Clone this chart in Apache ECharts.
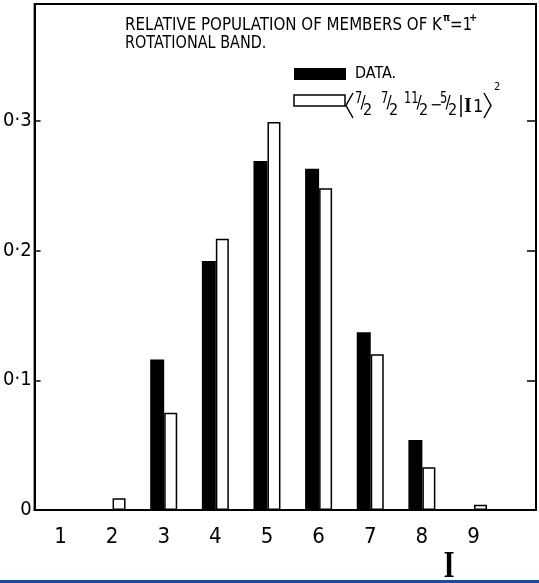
<!DOCTYPE html>
<html>
<head>
<meta charset="utf-8">
<script src="https://cdn.jsdelivr.net/npm/echarts@6.0.0/dist/echarts.min.js"></script>
<style>
    html, body { margin: 0; padding: 0; background: #fff; }
    #chart { width: 539px; height: 583px; }
</style>
</head>
<body>
<div id="chart"></div>
<script>
// ── data ──
const categories = [1, 2, 3, 4, 5, 6, 7, 8, 9];
const dataValues = [0, 0, 0.116, 0.192, 0.269, 0.263, 0.137, 0.054, 0];
const calcValues = [0, 0.009, 0.075, 0.209, 0.299, 0.248, 0.120, 0.033, 0.004];
const yTicks = [0, 0.1, 0.2, 0.3];

const FONT = '"DejaVu Sans Condensed", "Liberation Sans", sans-serif';
const SERIF = '"Liberation Serif", serif';

function txt(x, y, text, size, opts) {
    opts = opts || {};
    return {
        type: 'text', x: x, y: y, silent: true,
        scaleX: opts.sx || 1,
        style: {
            text: text,
            fontSize: size,
            fontFamily: opts.family || FONT,
            fontWeight: opts.weight || 'normal',
            fill: '#000',
            align: opts.align || 'left',
            verticalAlign: 'middle',
        },
    };
}

// 分数 7/2 这种
function frac(x, num, den) {
    var w = num.length * 7;
    return [
        txt(x, 99, num, 15, { sx: 0.85 }),
        txt(x + w + 1, 104, '/', 17, { align: 'center' }),
        txt(x + w + 1, 111, den, 16),
    ];
}

function bracket(x, dir) {
    return {
        type: 'polyline', silent: true,
        shape: { points: [[x, 93], [x + 7 * dir, 105.5], [x, 118]] },
        style: { stroke: '#000', lineWidth: 1.5, fill: null },
    };
}

const graphics = [
    txt(125, 25, 'RELATIVE POPULATION OF MEMBERS OF K', 18, { sx: 0.93 }),
    txt(443, 18, 'π', 10, { weight: 'bold' }),
    txt(450, 25, '=1', 18, { sx: 0.93 }),
    txt(469, 18, '+', 11, { weight: 'bold' }),
    txt(125, 43, 'ROTATIONAL BAND.', 18, { sx: 0.89 }),

    { type: 'rect', silent: true, shape: { x: 294, y: 68, width: 52, height: 12 }, style: { fill: '#000' } },
    txt(355, 74, 'DATA.', 16),
    { type: 'rect', silent: true, shape: { x: 294, y: 95, width: 51, height: 11 }, style: { fill: '#fff', stroke: '#000', lineWidth: 1.5 } },
    bracket(353, -1),
]
    .concat(frac(355, '7', '2'))
    .concat(frac(381, '7', '2'))
    .concat(frac(404, '11', '2'))
    .concat([txt(430, 106, '−', 16)])
    .concat(frac(440, '5', '2'))
    .concat([
        { type: 'line', silent: true, shape: { x1: 461, y1: 95, x2: 461, y2: 117 }, style: { stroke: '#000', lineWidth: 1.5 } },
        txt(464, 107, 'I', 20, { family: SERIF, weight: 'bold' }),
        txt(473, 107, '1', 18),
        bracket(484, 1),
        txt(494, 87, '2', 11),
        txt(449, 567, 'I', 38, { family: SERIF, weight: 'bold', align: 'center', sx: 0.75 }),
        { type: 'rect', silent: true, shape: { x: 0, y: 580, width: 539, height: 3 }, style: { fill: '#1b4b9b' } },
    ]);

function isTick(v) {
    return yTicks.some(t => Math.abs(t - v) < 1e-6);
}

const chart = echarts.init(document.getElementById('chart'));
chart.setOption({
    animation: false,
    backgroundColor: '#fff',
    grid: {
        left: 34, right: 2, top: 4, bottom: 73,
        show: true, borderColor: '#000', borderWidth: 2,
    },
    xAxis: {
        type: 'value',
        min: 0.5,
        max: 10.21,
        interval: 0.5,
        splitLine: { show: false },
        axisTick: { show: false },
        axisLine: { lineStyle: { color: '#000', width: 2 } },
        axisLabel: {
            color: '#000', fontSize: 22, fontFamily: FONT, margin: 16,
            formatter: v => categories.includes(v) ? String(v) : '',
        },
    },
    yAxis: [
        {
            type: 'value', min: 0, max: 0.39, interval: 0.1,
            splitLine: { show: false },
            axisLine: { show: true, lineStyle: { color: '#000', width: 2 } },
            axisTick: { inside: true, length: 6, lineStyle: { color: '#000', width: 1.5 } },
            axisLabel: {
                color: '#000', fontSize: 20, fontFamily: FONT, margin: 3,
                formatter: v => isTick(v) ? (v === 0 ? '0' : v.toFixed(1).replace('.', '·')) : '',
            },
        },
        {
            type: 'value', position: 'right', min: 0, max: 0.39, interval: 0.1,
            splitLine: { show: false },
            axisLine: { show: true, lineStyle: { color: '#000', width: 1.5 } },
            axisTick: { inside: true, length: 9, lineStyle: { color: '#000', width: 1.5 } },
            axisLabel: { show: false },
        },
    ],
    series: [
        {
            name: 'DATA.',
            type: 'bar',
            barWidth: 14,
            barGap: '0%',
            data: categories.map((c, i) => [c, dataValues[i]]),
            itemStyle: { color: '#000' },
        },
        {
            name: 'calc',
            type: 'bar',
            barWidth: 13,
            barGap: '0%',
            data: categories.map((c, i) => [c, calcValues[i]]),
            itemStyle: { color: '#fff', borderColor: '#000', borderWidth: 1.5 },
        },
    ],
    graphic: graphics,
});

window.addEventListener('resize', () => chart.resize());
</script>
</body>
</html>
